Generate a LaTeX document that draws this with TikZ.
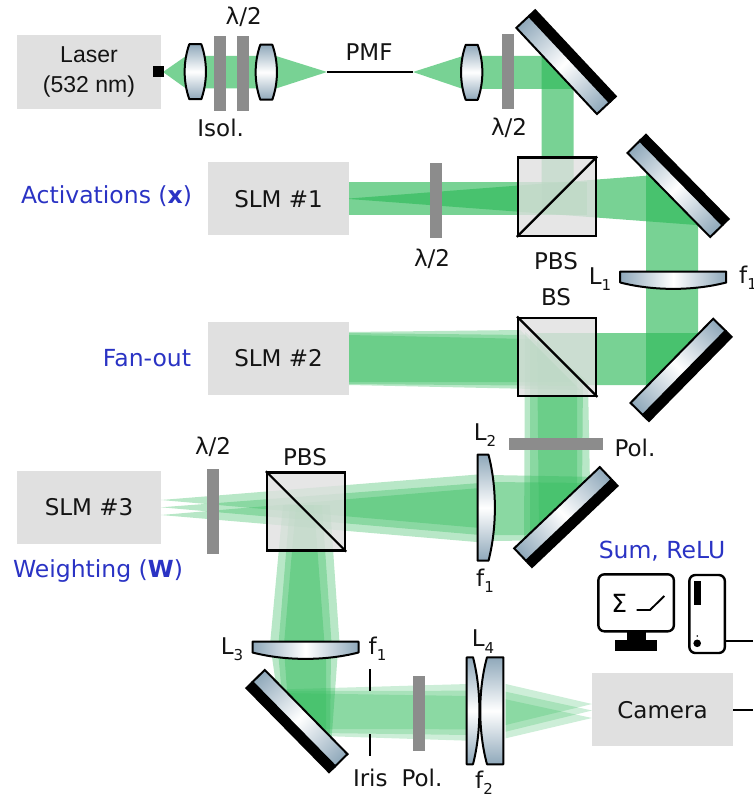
\documentclass[tikz,border=0pt]{standalone}
\usepackage{fontspec}
\setmainfont{DejaVu Sans}
\newfontfamily\arialf{Liberation Sans}
\definecolor{beamg}{RGB}{47,186,90}
\definecolor{plateg}{RGB}{140,140,140}
\definecolor{boxg}{RGB}{224,224,224}
\definecolor{steelc}{RGB}{143,168,186}
\definecolor{bluet}{RGB}{42,51,196}
\newcommand{\lsub}[1]{\raisebox{-0.28em}{\fontsize{15}{15}\selectfont #1}}
\newcommand{\mirrorat}[4]{%
  \begin{scope}[transform canvas={shift={(#1,#2)},rotate=#3}]
    \fill[black] (-60,#4*4.4) rectangle (60,#4*14);
    \shade[left color=steelc,right color=steelc,middle color=white,draw=black,line width=2]
      (-59,-#4*12.8) rectangle (59,#4*4.4);
  \end{scope}}
\tikzset{
  px/.style={x=1pt,y=-1pt},
  strong/.style={fill=beamg,fill opacity=.65,draw=none},
  fan/.style={fill=beamg,fill opacity=.34,draw=none},
  fanl/.style={fill=beamg,fill opacity=.24,draw=none},
  plate/.style={fill=plateg,draw=none},
  glass/.style={draw=black,line width=2,line join=round},
  glassv/.style={glass,top color=steelc,bottom color=steelc,middle color=white},
  glassh/.style={glass,left color=steelc,right color=steelc,middle color=white},
  lbl/.style={font=\fontsize{23}{26}\selectfont,inner sep=0pt,text=black!92},
  bl/.style={font=\fontsize{23.5}{26}\selectfont,inner sep=0pt,text=bluet},
  sub/.style={font=\fontsize{23}{26}\selectfont,inner sep=0pt,text=black!92},
  boxn/.style={fill=boxg,draw=none,minimum width=#1,minimum height=73,inner sep=0pt,
     font=\fontsize{23}{26}\selectfont,text=black!92},
  cube/.style={draw=black,draw opacity=1,line width=2.4,fill=boxg,fill opacity=.8,text opacity=1,minimum width=78,minimum height=78,inner sep=0pt},
  bilens/.pic={\draw[glassv] (-6,-27.5) -- (6,-27.5) .. controls (12.2,-10) and (12.2,10) .. (6,27.5)
      -- (-6,27.5) .. controls (-12.2,10) and (-12.2,-10) .. (-6,-27.5) -- cycle;},
  planoh/.pic={\draw[glassh] (-53,-8.5) -- (53,-8.5) -- (53,2.5) .. controls (20,11) and (-20,11) .. (-53,2.5) -- cycle;},
  planov/.pic={\draw[glassv] (-8.5,-53) -- (2.5,-53) .. controls (11,-20) and (11,20) .. (2.5,53) -- (-8.5,53) -- cycle;},
}
\begin{document}
\begin{tikzpicture}[px]
\useasboundingbox (0,0) rectangle (753,794);
% ---------- beams ----------
\fill[strong] (163,72) -- (186,56) -- (276,56) -- (327,72) -- (276,88.5) -- (186,88.5) -- cycle;
\fill[strong] (413,72) -- (463,56) -- (552,56) -- (583,89) -- (463,89) -- cycle;
\fill[strong] (541.7,46) -- (573.7,79) -- (573.7,180) -- (541.7,212) -- cycle;
\fill[strong] (349,182) rectangle (587,215);
\fill[strong] (349,198.5) -- (656,175) -- (707,225.8) -- (349,199) -- cycle;
\fill[strong] (646,166) -- (698,216) -- (698,343) -- (646,395) -- cycle;
\fill[strong] (708,333) -- (657,385) -- (585,385) -- (533,333) -- cycle;
% fan-out SLM2
\fill[fan] (349,332) -- (520,330) -- (572,382) -- (349,382) -- cycle;
\fill[fan] (349,333) -- (525,335) -- (576,386) -- (349,384) -- cycle;
\fill[fan] (349,335) -- (529,339) -- (580,390) -- (349,385) -- cycle;
% down from BS
\fill[fan] (525,332) -- (577,376) -- (577,498) -- (524,548) -- cycle;
\fill[fan] (530,332) -- (583,378) -- (582,493) -- (530,542.5) -- cycle;
\fill[fan] (537,338) -- (588,382) -- (590,485) -- (539,534) -- cycle;
% to L2 (right of it)
\fill[fan] (490,475) -- (600,477) -- (533,540.5) -- (490,541) -- cycle;
\fill[fan] (490,482) -- (592,483) -- (537,535) -- (490,535) -- cycle;
% SLM3 fans
\fill[fan] (161,500) -- (480,474.3) -- (480,528) -- cycle;
\fill[fan] (161,507.3) -- (480,483) -- (480,535) -- cycle;
\fill[fan] (161,515) -- (480,488) -- (480,542.3) -- cycle;
% down from PBS2
\fill[fan] (283,505) -- (314,505) -- (325,650) -- (269.5,650) -- cycle;
\fill[fan] (290,505) -- (322,505) -- (332,650) -- (278,650) -- cycle;
\fill[fan] (296,505) -- (330,505) -- (340,650) -- (283.5,650) -- cycle;
% below L3
\fill[fan] (271,650) -- (326,650) -- (326,741) -- (277,692) -- cycle;
\fill[fan] (278,650) -- (331,650) -- (330,746) -- (282,697) -- cycle;
\fill[fan] (284,650) -- (338,650) -- (331,747) -- (288,703) -- cycle;
% mirror 5 to L4
\fill[fanl] (278,689.5) -- (468,684) -- (468,729.3) -- (322,729) -- cycle;
\fill[fanl] (278,691) -- (468,690.7) -- (468,735) -- (322,733) -- cycle;
\fill[fanl] (280,693) -- (468,696) -- (468,740.7) -- (322,736) -- cycle;
% L4 to camera
\fill[fanl] (505.7,684) -- (592,704) -- (505.7,725) -- cycle;
\fill[fanl] (505.7,691.7) -- (592,710.5) -- (505.7,731.7) -- cycle;
\fill[fanl] (505.7,699.3) -- (592,718) -- (505.7,738.3) -- cycle;
% ---------- PMF and iris ----------
\coordinate (pmfa) at (327,72.3);
\coordinate (pmfb) at (413,72.3);
\draw[line width=2] (pmfa) -- (pmfb);
\coordinate (irisa) at (370.3,669);
\coordinate (irisb) at (370.3,690.7);
\coordinate (irisc) at (370.3,734);
\coordinate (irisd) at (370.3,756);
\draw[line width=2] (irisa) -- (irisb) (irisc) -- (irisd);
% ---------- plates ----------
\fill[plate] (214,36) rectangle (226,110.7);
\fill[plate] (237,36) rectangle (249,110.7);
\fill[plate] (502,34) rectangle (514,109);
\fill[plate] (430,163) rectangle (442,238);
\fill[plate] (509,437.7) rectangle (603,450);
\fill[plate] (207,469) rectangle (219,554);
\fill[plate] (413,676) rectangle (425,751);
% ---------- lenses ----------
\pic at (195.3,71.7) {bilens};
\pic at (266.3,72.2) {bilens};
\pic at (471.7,72.3) {bilens};
\pic at (673.2,280) {planoh};
\pic at (305.5,650) {planoh};
\pic at (486,507.7) {planov};
\draw[glassv] (466.7,657.3) -- (473,657.3) .. controls (481.5,690) and (481.5,731) .. (473,764.3) -- (466.7,764.3) -- cycle;
\draw[glassv] (503.3,657.3) -- (487,657.3) .. controls (478,690) and (478,731) .. (487,764.3) -- (503.3,764.3) -- cycle;
% ---------- mirrors ----------
\mirrorat{566}{62.2}{-46.9}{-1}
\mirrorat{678}{186}{-45.5}{-1}
\mirrorat{681}{369.8}{45.5}{1}
\mirrorat{565.8}{517}{43.5}{1}
\mirrorat{297}{721}{-45.5}{1}
% ---------- boxes ----------
\node[boxn=144,minimum height=74,font=\arialf\fontsize{23}{30}\selectfont,align=center] (laser) at (89,72) {Laser\\[-0.5pt](532 nm)};
\node[fill=black,minimum size=11,inner sep=0pt] (port) at (158.5,72) {};
\node[boxn=141] (slma) at (278.5,198.7) {SLM \#1};
\node[boxn=141] (slmb) at (278.5,358.5) {SLM \#2};
\node[boxn=144] (slmc) at (89,507.5) {SLM \#3};
\node[boxn=141] (cam) at (662.5,709.7) {Camera};
% ---------- cubes ----------
\node[cube] (pbsa) at (557,196.7) {};
\draw[line width=2.2] (pbsa.south west) -- (pbsa.north east);
\node[cube] (bs) at (557.2,356.7) {};
\draw[line width=2.2] (bs.north west) -- (bs.south east);
\node[cube] (pbsb) at (306,511.4) {};
\draw[line width=2.2] (pbsb.north west) -- (pbsb.south east);
% ---------- computer ----------
\node[fill=black,minimum width=19.3,minimum height=9,inner sep=0pt] (stand) at (636.3,636) {};
\node[fill=black,minimum width=42.6,minimum height=10.7,inner sep=0pt] (base) at (636,645.4) {};
\node[draw=black,line width=2.4,rounded corners=6,fill=white,minimum width=75.5,minimum height=57,inner sep=0pt] (mon) at (636.1,602.8) {};
\node[font=\fontsize{25}{25}\selectfont,inner sep=0pt] (sig) at (619.3,603) {Σ};
\coordinate (ra) at (636.7,610);
\coordinate (rb) at (650,610);
\coordinate (rc) at (664.3,596);
\draw[line width=1.9] (ra) -- (rb) -- (rc);
\node[draw=black,line width=2.4,rounded corners=6,fill=white,minimum width=35.5,minimum height=78,inner sep=0pt] (tower) at (707.1,614) {};
\node[fill=black,minimum width=6.4,minimum height=24.6,inner sep=0pt] (tbar) at (697.5,593) {};
\node[fill=black,circle,minimum size=1.7,inner sep=0pt] (tdot) at (697.2,636) {};
\node[fill=black,circle,minimum size=7.6,inner sep=0pt] (tled) at (697.2,643.3) {};
\coordinate (outa) at (753,640.7);
\coordinate (outb) at (753,710);
\draw[line width=2] (tower.east |- outa) -- (outa);
\draw[line width=2] (cam.east |- outb) -- (outb);
% ---------- labels ----------
\node[lbl] (t1) at (243.7,17) {λ/2};
\node[lbl] (t2) at (220.7,128) {Isol.};
\node[lbl] (t3) at (369,52.5) {PMF};
\node[lbl] (t4) at (509,128) {λ/2};
\node[lbl] (t5) at (432,259) {λ/2};
\node[lbl] (t6) at (556,261) {PBS};
\node[sub] (t7) at (600,279) {L\lsub{1}};
\node[sub,anchor=west] (t8) at (739,278) {f\lsub{1}};
\node[lbl] (t9) at (556,297) {BS};
\node[sub] (t10) at (485,435) {L\lsub{2}};
\node[lbl] (t11) at (635,448) {Pol.};
\node[sub] (t12) at (485,581) {f\lsub{1}};
\node[lbl] (t13) at (213,447) {λ/2};
\node[lbl] (t14) at (305,457) {PBS};
\node[sub] (t15) at (232,649) {L\lsub{3}};
\node[sub] (t16) at (377.5,649) {f\lsub{1}};
\node[sub] (t17) at (483,641.5) {L\lsub{4}};
\node[lbl] (t18) at (370.3,778) {Iris};
\node[lbl] (t19) at (422,778) {Pol.};
\node[sub] (t20) at (484,783) {f\lsub{2}};
\node[bl] (b1) at (106.5,196.5) {Activations (\textbf{x})};
\node[bl] (b2) at (147,358.5) {Fan-out};
\node[bl] (b3) at (98,571) {Weighting (\textbf{W})};
\node[bl] (b4) at (662,551) {Sum, ReLU};
\end{tikzpicture}
\end{document}
